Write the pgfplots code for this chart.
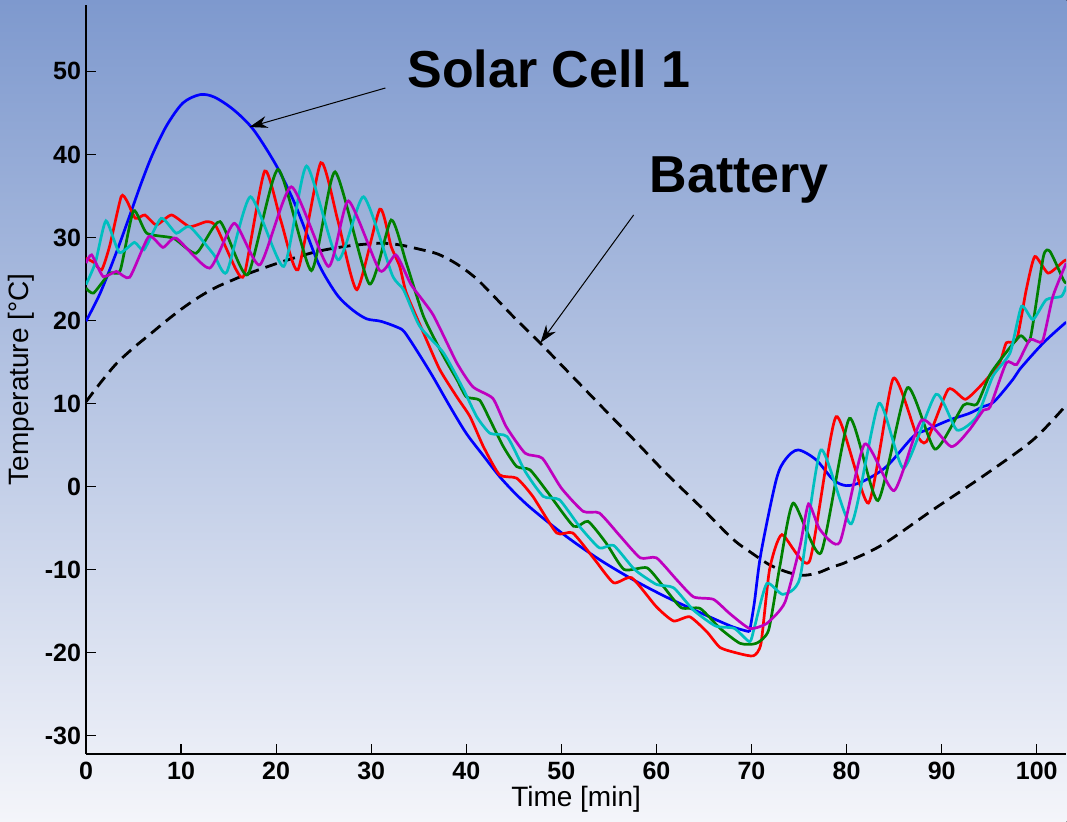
\documentclass[border=0pt]{standalone}
\usepackage{pgfplots}
\pgfplotsset{compat=1.18}
\usepackage{fontspec}
\setmainfont{Liberation Sans}
\usetikzlibrary{arrows.meta}
\definecolor{bgtop}{RGB}{126,153,206}
\definecolor{bgmid}{RGB}{193,203,229}
\definecolor{bgbot}{RGB}{244,245,250}
\definecolor{mblue}{RGB}{0,0,255}
\definecolor{mred}{RGB}{255,0,0}
\definecolor{mgreen}{RGB}{0,128,0}
\definecolor{mcyan}{RGB}{0,191,191}
\definecolor{mmag}{RGB}{191,0,191}
\begin{document}
\begin{tikzpicture}
\fill[top color=bgtop, middle color=bgmid, bottom color=bgbot] (0,0) rectangle (533.5pt,411pt);
\begin{axis}[
  at={(43pt,34pt)}, anchor=south west, scale only axis,
  width=490.25pt, height=374.5pt,
  xmin=0, xmax=103.1, ymin=-32.2, ymax=58,
  axis x line=bottom, axis y line=left,
  axis line style={-, line width=0.8pt, black},
  tick align=inside, major tick length=5pt,
  tick style={black, line width=0.6pt},
  xtick={0,10,...,100}, ytick={-30,-20,...,50},
  /pgf/number format/assume math mode=true,
  ticklabel style={font=\fontsize{12.5}{14}\selectfont\bfseries},
  yticklabel style={xshift=1pt},
  xticklabel style={yshift=-0.5pt},
  xlabel={Time [min]}, ylabel={Temperature [°C]},
  label style={font=\fontsize{14}{16}\selectfont},
  xlabel style={at={(axis description cs:0.5,0)}, anchor=center, yshift=-23pt},
  ylabel style={at={(axis description cs:0,0.5)}, anchor=center, yshift=32.5pt},
  every axis plot/.append style={line width=1.35pt},
]
\addplot[black, dash pattern=on 6pt off 3.5pt, line width=1.4pt, smooth, tension=0.5] coordinates {
(0,10.2) (1.6,12.6) (3.2,14.8) (5,16.7) (6.7,18.3) (8.5,20.0) (10.2,21.5) (12,22.9) (13.7,24.0)
(15.5,24.9) (17.2,25.7) (20.7,27.1) (24.3,28.3)
(27.8,29.0) (31,29.3) (33,29.1) (35,28.6) (37,28) (39,26.8) (41,25.1) (43,22.8) (45,20.4)
(48,17.0) (54,9.9) (58,5.2) (61,1.6) (64.6,-2.4) (68,-6.3) (70,-8.0) (72,-9.5) (74,-10.4)
(75.5,-10.7) (77,-10.4) (78.5,-9.7) (80,-9.1) (83.8,-7) (89.1,-2.8) (94.3,1.2) (99.6,5.6) (103.1,9.8)};
\addplot[mblue, smooth, tension=0.5] coordinates {
(0,19.9) (1.5,23.3) (3.2,28.2) (4.5,32.3) (5.8,36.5) (7,40) (8.5,43.5) (10.2,46.2) (12,47.2)
(13.5,46.9) (15.5,45.4) (17.6,43) (20,38.7) (21.8,34.5) (23.2,30.5) (24.6,26.5) (26.4,23.1)
(28,21.3) (29.5,20.2) (31,19.9) (32.7,19.2) (33.5,18.6) (35,16) (36.5,13.2) (38.3,9.6)
(40,6.4) (41.8,3.7) (43.5,1.2) (45.2,-0.9) (47,-2.8) (50.5,-6.0) (54,-8.8) (57.5,-11.2)
(61,-13.3) (64.6,-15.2) (68,-16.9) (69.8,-17.5)};
\addplot[mblue, smooth, tension=0.5] coordinates {
(69.8,-17.5) (70.3,-14) (71,-8) (72.6,0.8) (73.6,3.3) (74.9,4.4) (76.8,3.2) (78.6,0.8)
(80,0.1) (81.7,0.6) (84.2,2.4) (87,6) (88.4,6.8) (90.8,8) (92.9,8.8) (94.3,9.6) (95.5,10.2)
(97.5,12.9) (98.2,14.1) (100.7,17.3) (103.1,19.8)};
\addplot[mred, smooth, tension=0.35] coordinates {
(0,27.5) (0.8,27) (1.65,26.1) (2.5,29) (3.7,34.9) (4.3,34.4) (5.2,32.3) (6.2,32.7) (7.4,31.5)
(9.0,32.7) (10.9,31.3) (12.7,31.9) (13.7,31.3) (15.8,26.1) (16.7,25.7) (18.8,38.0) (20.5,32)
(22.3,26.1) (24.7,39.0) (26.5,32) (28.5,23.7) (30.9,33.4) (32.1,28.9) (33,26.5) (33.7,23.3)
(35.5,18.5) (37.2,14.1) (39,10.8) (40.4,8.4) (41.8,4.8) (43.5,1.4) (45.3,1.0) (47,-1.2)
(49.5,-5.6) (51.2,-5.6) (53.5,-8.8) (55.5,-11.6) (57.4,-11.0) (60,-14.5) (61.8,-16.2)
(63.5,-15.7) (65.3,-17.5) (66.7,-19.4) (68.6,-20.1) (70.2,-20.4) (71,-18.9) (71.9,-10)
(73.2,-5.8) (76.1,-9) (78.9,8.4) (82.3,-2.0) (84.9,13.0) (87.3,6.4) (88.4,5.4) (90.7,11.7)
(92.5,10.5) (94.4,12.5) (96.1,14.9) (96.8,17.3) (97.9,17.7) (98.9,23.7) (99.8,27.7)
(101.2,25.7) (102.8,27.1) (103.1,27.3)};
\addplot[mgreen, smooth, tension=0.35] coordinates {
(0,23.9) (0.8,23.3) (2.5,25.7) (3.6,26.0) (5,33.2) (6.4,30.5) (9.2,29.9) (11.6,28.1)
(14.1,31.9) (17.0,25.5) (20.2,38.2) (23.7,26) (26.2,37.9) (29.8,24.4) (32.1,32.1) (33.7,26.9)
(35.5,20.5) (37.6,15.7) (39,12.9) (40,10.8) (41.4,10.4) (42.5,8) (43.9,4.8) (45.3,2.4)
(46.7,2.0) (48.5,-0.6) (51.3,-4.8) (52.8,-4.2) (54.7,-6.8) (56.6,-10) (59,-9.8) (60.7,-12)
(62.6,-14.6) (64.6,-14.7) (66.7,-17.1) (68.8,-18.9) (70.5,-18.9) (71.8,-17.3) (73,-9.5)
(74.4,-2.0) (77.3,-8.0) (80.3,8.2) (83.3,-1.7) (86.4,11.9) (89.3,4.5) (92.3,9.8) (93.7,9.9)
(95.2,13.7) (98.2,18.1) (99.3,17.7) (100.7,27.7) (101.4,28.3) (102.8,24.9) (103.1,24.5)};
\addplot[mcyan, smooth, tension=0.35] coordinates {
(0,24.3) (1,27) (2.1,32.0) (3.5,28.2) (5.1,29.4) (6.1,28.5) (7.9,32.3) (9.5,30.5) (10.9,31.3)
(13.4,28) (14.8,25.8) (17.3,34.9) (20.8,26.5) (23.2,38.6) (26.5,27.3) (29.2,34.9) (32.2,25.5)
(33.4,23.7) (35.1,19.3) (37.6,16.1) (39.7,11.7) (41.1,8.4) (42.5,6.4) (44.3,6.0) (46.2,1.8)
(48.1,-1.2) (49.8,-1.6) (51.9,-4.8) (54,-7.4) (55.5,-7.1) (57.7,-10) (60,-11.8) (61.8,-12.2)
(63.9,-14.9) (66.2,-16.8) (68.2,-17.1) (69.8,-18.7) (70.3,-17) (71.6,-11.7) (73.3,-13)
(75.1,-11) (77.3,4.4) (80.5,-4.5) (83.4,10) (86,2.2) (89.4,11.1) (91.6,6.8) (93.7,8.4)
(95.4,13.3) (97.2,16.1) (98.4,21.7) (99.6,20.1) (101,22.5) (102.6,22.9) (103.1,24.1)};
\addplot[mmag, smooth, tension=0.35] coordinates {
(0,26.9) (0.6,27.9) (1.8,25.3) (3.2,25.9) (4.6,25.2) (6.6,30.1) (8.1,28.8) (9.5,29.9) (13,26.3)
(15.6,31.7) (18.3,26.7) (21.6,36.1) (25.5,26.5) (27.6,34.4) (30.9,26) (32.6,27.9) (34.2,24.3)
(36.5,20.7) (39,14.9) (40.7,12) (42.8,10.6) (44.2,7.2) (46.2,4) (48,3.4) (50,-0.2) (52.3,-3)
(54,-3.2) (56.2,-6) (58.3,-8.6) (60,-8.6) (62.1,-11.2) (63.9,-13.3) (66,-13.6) (67.7,-15.3)
(69.8,-17.1) (71.6,-16.5) (73.5,-14) (75.1,-7.2) (76,-2.1) (77.2,-5.2) (79.3,-6.7) (81.9,5.1)
(85,-0.5) (87.9,8) (91,4.8) (92.9,6.8) (94.4,9.2) (95.1,9.6) (96.8,14.9) (97.9,14.7)
(99.3,17.7) (100.6,17.5) (101.7,22.9) (103.1,26.9)};
\draw[-{Stealth[length=9pt,width=6pt]}, line width=0.5pt] (axis cs:31.5,48.0) -- (axis cs:17.2,43.3);
\draw[-{Stealth[length=9pt,width=6pt]}, line width=0.5pt] (axis cs:57.6,32.7) -- (axis cs:47.8,17.3);
\node[anchor=base, inner sep=0pt, font=\fontsize{26}{30}\selectfont\bfseries] at (axis cs:48.7,48.0) {Solar Cell 1};
\node[anchor=base, inner sep=0pt, font=\fontsize{26}{30}\selectfont\bfseries] at (axis cs:68.7,35.4) {Battery};
\end{axis}
\end{tikzpicture}
\end{document}
